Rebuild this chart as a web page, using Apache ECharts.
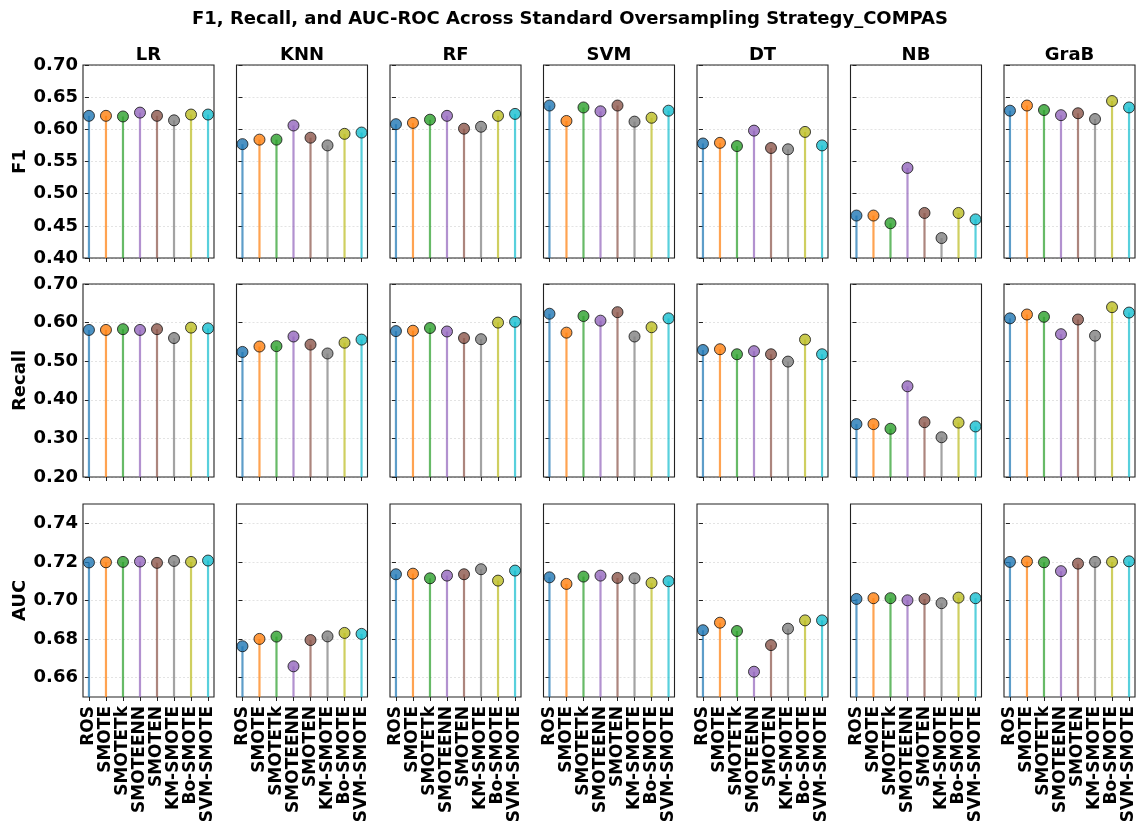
<!DOCTYPE html>
<html>
<head>
<meta charset="utf-8">
<script src="https://cdn.jsdelivr.net/npm/echarts@6/dist/echarts.min.js"></script>
<style>
  html, body { margin: 0; padding: 0; background: #fff; }
  #chart { width: 1140px; height: 830px; }
</style>
</head>
<body>
<div id="chart"></div>
<script>
// Oversampling strategies (x categories) and classifiers (panel columns)
const strategies = ['ROS', 'SMOTE', 'SMOTETk', 'SMOTEENN', 'SMOTEN', 'KM-SMOTE', 'Bo-SMOTE', 'SVM-SMOTE'];
const models = ['LR', 'KNN', 'RF', 'SVM', 'DT', 'NB', 'GraB'];
const strategyColors = ['#1f77b4', '#ff7f0e', '#2ca02c', '#9467bd', '#8c564b', '#7f7f7f', '#bcbd22', '#17becf'];

// F1 score per classifier, one value per strategy
const f1Scores = {
  LR:   [0.621, 0.621, 0.620, 0.626, 0.621, 0.614, 0.623, 0.623],
  KNN:  [0.577, 0.584, 0.584, 0.606, 0.587, 0.575, 0.593, 0.595],
  RF:   [0.608, 0.610, 0.615, 0.621, 0.601, 0.604, 0.621, 0.624],
  SVM:  [0.637, 0.613, 0.634, 0.628, 0.637, 0.612, 0.618, 0.629],
  DT:   [0.578, 0.579, 0.574, 0.598, 0.571, 0.569, 0.596, 0.575],
  NB:   [0.466, 0.466, 0.454, 0.540, 0.470, 0.431, 0.470, 0.460],
  GraB: [0.629, 0.637, 0.630, 0.622, 0.625, 0.616, 0.644, 0.634]
};

// Recall per classifier
const recallScores = {
  LR:   [0.581, 0.581, 0.583, 0.581, 0.583, 0.560, 0.587, 0.585],
  KNN:  [0.524, 0.538, 0.539, 0.564, 0.543, 0.520, 0.548, 0.556],
  RF:   [0.578, 0.579, 0.586, 0.577, 0.560, 0.557, 0.600, 0.602],
  SVM:  [0.623, 0.574, 0.617, 0.605, 0.627, 0.564, 0.588, 0.611],
  DT:   [0.529, 0.531, 0.518, 0.526, 0.518, 0.499, 0.556, 0.518],
  NB:   [0.337, 0.337, 0.325, 0.435, 0.342, 0.303, 0.341, 0.331],
  GraB: [0.611, 0.621, 0.615, 0.570, 0.608, 0.566, 0.640, 0.626]
};

// AUC-ROC per classifier
const aucScores = {
  LR:   [0.7197, 0.7198, 0.7200, 0.7202, 0.7195, 0.7205, 0.7200, 0.7207],
  KNN:  [0.6763, 0.6801, 0.6813, 0.6659, 0.6795, 0.6814, 0.6832, 0.6827],
  RF:   [0.7136, 0.7139, 0.7115, 0.7129, 0.7136, 0.7162, 0.7103, 0.7155],
  SVM:  [0.7120, 0.7086, 0.7124, 0.7129, 0.7117, 0.7115, 0.7091, 0.7100],
  DT:   [0.6846, 0.6885, 0.6842, 0.6631, 0.6769, 0.6854, 0.6897, 0.6897],
  NB:   [0.7008, 0.7012, 0.7012, 0.7001, 0.7008, 0.6986, 0.7015, 0.7012],
  GraB: [0.7200, 0.7202, 0.7198, 0.7152, 0.7191, 0.7200, 0.7200, 0.7203]
};

// Tick values for each metric row
const f1Ticks = [0.40, 0.45, 0.50, 0.55, 0.60, 0.65, 0.70];
const recallTicks = [0.20, 0.30, 0.40, 0.50, 0.60, 0.70];
const aucTicks = [0.66, 0.68, 0.70, 0.72, 0.74];

const rows = [
  { name: 'F1',     data: f1Scores,     min: 0.40, max: 0.70, ticks: f1Ticks },
  { name: 'Recall', data: recallScores, min: 0.20, max: 0.70, ticks: recallTicks },
  { name: 'AUC',    data: aucScores,    min: 0.65, max: 0.75, ticks: aucTicks }
];

const FONT = 'DejaVu Sans';
const gridLeft0 = 83, gridStep = 153.5, gridW = 131, gridH = 193;
const rowTops = [65, 284, 504];

function hexAlpha(hex, a) {
  const n = parseInt(hex.slice(1), 16);
  return 'rgba(' + ((n >> 16) & 255) + ',' + ((n >> 8) & 255) + ',' + (n & 255) + ',' + a + ')';
}

const grids = [], xAxes = [], yAxes = [], series = [], graphics = [];
const xIdx = strategies.map((s, i) => i);

rows.forEach((row, r) => {
  models.forEach((model, c) => {
    const k = grids.length;
    const left = gridLeft0 + c * gridStep;
    // panel frame drawn above the dashed grid lines
    grids.push({
      left: left, top: rowTops[r], width: gridW, height: gridH, z: 1,
      show: true, borderColor: '#222', borderWidth: 1.1, backgroundColor: 'transparent'
    });
    const bottomRow = r === rows.length - 1;
    xAxes.push({
      gridIndex: k, type: 'value', min: -0.35, max: 7.35,
      axisLine: { show: false },
      splitLine: { show: false },
      axisTick: { show: true, customValues: xIdx, length: 4, lineStyle: { color: '#222', width: 1 } },
      axisLabel: {
        show: bottomRow, customValues: xIdx, rotate: 90, margin: 9,
        fontFamily: FONT, fontWeight: 'bold', fontSize: 17, color: '#000',
        formatter: v => strategies[Math.round(v)]
      }
    });
    yAxes.push({
      gridIndex: k, type: 'value', min: row.min, max: row.max,
      name: c === 0 ? row.name : '',
      nameLocation: 'middle', nameRotate: 90, nameGap: 52,
      nameTextStyle: { fontFamily: FONT, fontWeight: 'bold', fontSize: 18, color: '#000' },
      axisLine: { show: false },
      axisTick: { show: true, customValues: row.ticks, length: 4, lineStyle: { color: '#222', width: 1 } },
      splitLine: { show: true, lineStyle: { color: '#dcdcdc', width: 0.8, type: [2, 2] } },
      axisLabel: {
        show: c === 0, customValues: row.ticks, margin: 5,
        fontFamily: FONT, fontWeight: 'bold', fontSize: 18, color: '#000',
        formatter: v => v.toFixed(2)
      }
    });
    const vals = row.data[model];
    // stems
    series.push({
      type: 'bar', xAxisIndex: k, yAxisIndex: k, barWidth: 2.2, clip: true,
      silent: true, animation: false, z: 2,
      data: vals.map((v, i) => ({ value: [i, v], itemStyle: { color: hexAlpha(strategyColors[i], 0.72) } }))
    });
    // markers
    series.push({
      type: 'scatter', xAxisIndex: k, yAxisIndex: k, symbol: 'circle', symbolSize: 11,
      silent: true, animation: false, z: 3,
      data: vals.map((v, i) => ({
        value: [i, v],
        itemStyle: { color: strategyColors[i], borderColor: '#111', borderWidth: 1 }
      }))
    });
    // column titles above the top row
    if (r === 0) {
      graphics.push({
        type: 'text', x: left + gridW / 2, y: rowTops[0] - 10,
        style: { text: model, fill: '#000', font: 'bold 18px "' + FONT + '"', align: 'center', verticalAlign: 'middle' }
      });
    }
  });
});

const chart = echarts.init(document.getElementById('chart'), null, { renderer: 'canvas' });
chart.setOption({
  animation: false,
  backgroundColor: '#fff',
  title: {
    text: 'F1, Recall, and AUC-ROC Across Standard Oversampling Strategy_COMPAS',
    left: 'center', top: 5,
    textStyle: { fontFamily: FONT, fontWeight: 'bold', fontSize: 18, color: '#000' }
  },
  grid: grids,
  xAxis: xAxes,
  yAxis: yAxes,
  series: series,
  graphic: graphics
});
</script>
</body>
</html>
